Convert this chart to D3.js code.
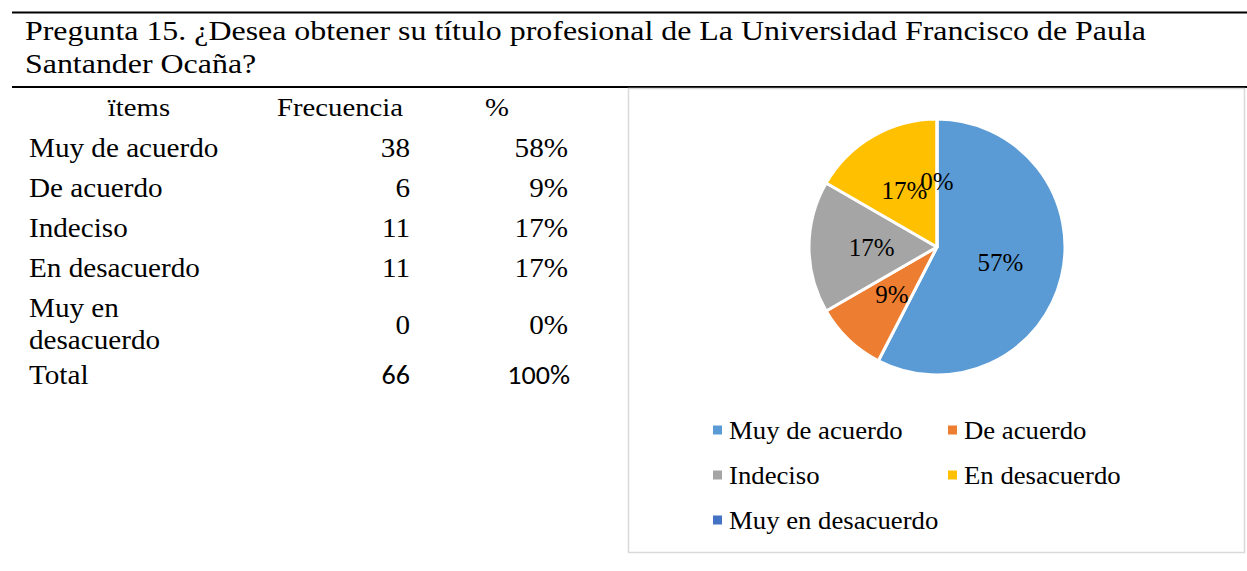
<!DOCTYPE html>
<html>
<head>
<meta charset="utf-8">
<script src="https://cdn.jsdelivr.net/npm/d3@7"></script>
<style>
  body { margin: 0; background: #fff; }
  svg { display: block; }
  .serif { font-family: 'Liberation Serif', 'Times New Roman', serif; fill: #000; }
  .sans { font-family: Carlito, Calibri, Lato, 'Open Sans', sans-serif; fill: #000; }
</style>
</head>
<body>
<svg id="chart" width="1247" height="571"></svg>
<script>
const titleLines = [
  'Pregunta 15. ¿Desea obtener su título profesional de La Universidad Francisco de Paula',
  'Santander Ocaña?'
];
const headers = ['ïtems', 'Frecuencia', '%'];
const categories = ['Muy de acuerdo', 'De acuerdo', 'Indeciso', 'En desacuerdo', 'Muy en desacuerdo'];
const frequencies = [38, 6, 11, 11, 0];
const tablePercents = ['58%', '9%', '17%', '17%', '0%'];
const pieLabels = ['57%', '9%', '17%', '17%', '0%'];
const totalLabel = 'Total';
const totalFrequency = 66;
const totalPercent = '100%';
const colors = ['#5B9BD5', '#ED7D31', '#A5A5A5', '#FFC000', '#4472C4'];

const svg = d3.select('#chart');

// the source picture is a bit wider than tall, so text gets a small x stretch
function addText(parent, x, y, txt, size, sx, anchor, cls) {
  return parent.append('text')
    .attr('class', cls || 'serif')
    .attr('transform', `translate(${x},${y}) scale(${sx},1)`)
    .attr('text-anchor', anchor || 'start')
    .attr('font-size', size)
    .text(txt);
}

// rules + title
svg.append('line').attr('x1', 12).attr('x2', 1247).attr('y1', 12.5).attr('y2', 12.5)
  .attr('stroke', '#000').attr('stroke-width', 2);
svg.append('line').attr('x1', 12).attr('x2', 1247).attr('y1', 87).attr('y2', 87)
  .attr('stroke', '#000').attr('stroke-width', 2);

svg.selectAll('.title')
  .data(titleLines)
  .join('text')
  .attr('class', 'title serif')
  .attr('transform', (d, i) => `translate(25,${40 + i * 33}) scale(1.14,1)`)
  .attr('font-size', 28)
  .text(d => d);

// table
const table = svg.append('g');
const colX = { label: 29, freq: 410, pct: 568 };
const fs = 27, sx = 1.08;

const hdrX = [139, 340, 497];
headers.forEach((h, i) => addText(table, hdrX[i], 116, h, 25, 1.15, 'middle'));

const rows = categories.map((c, i) => ({
  lines: c.length > 15 ? [c.split(' ').slice(0, 2).join(' '), c.split(' ').slice(2).join(' ')] : [c],
  freq: frequencies[i],
  pct: tablePercents[i]
}));
let y = 157;
rows.forEach(r => {
  const g = table.append('g');
  r.lines.forEach((l, j) => addText(g, colX.label, y + j * 32, l, fs, sx));
  const midY = y + (r.lines.length - 1) * 17;
  addText(g, colX.freq, midY, r.freq, fs, sx, 'end');
  addText(g, colX.pct, midY, r.pct, fs, sx, 'end');
  y += r.lines.length === 1 ? 40 : 71;
});
addText(table, colX.label, 384, totalLabel, fs, sx);
addText(table, colX.freq, 384, totalFrequency, 26, 1.08, 'end', 'sans');
addText(table, colX.pct + 2, 384, totalPercent, 26, 1.08, 'end', 'sans');

// chart box
svg.append('rect').attr('x', 628.5).attr('y', 88.5).attr('width', 616).attr('height', 464)
  .attr('fill', '#fff').attr('stroke', '#d9d9d9').attr('stroke-width', 1.5);

// pie
const cx = 937, cy = 247, r = 128;
const pie = d3.pie().sort(null).value(d => d)(frequencies);
const arc = d3.arc().innerRadius(0).outerRadius(r);
const labelArc = d3.arc().innerRadius(r * 0.51).outerRadius(r * 0.51);
const pg = svg.append('g').attr('transform', `translate(${cx},${cy})`);

pg.selectAll('path')
  .data(pie)
  .join('path')
  .attr('d', arc)
  .attr('fill', (d, i) => colors[i])
  .attr('stroke', '#fff')
  .attr('stroke-width', 3)
  .attr('stroke-linejoin', 'round');

pg.selectAll('.lbl')
  .data(pie)
  .join('text')
  .attr('class', 'lbl serif')
  .attr('transform', d => `translate(${labelArc.centroid(d)})`)
  .attr('text-anchor', 'middle')
  .attr('dy', '0.35em')
  .attr('font-size', 25)
  .text((d, i) => pieLabels[i]);

// legend
const legendPos = [[713, 430], [948, 430], [713, 475], [948, 475], [713, 520]];
const lg = svg.selectAll('.leg')
  .data(categories)
  .join('g')
  .attr('class', 'leg')
  .attr('transform', (d, i) => `translate(${legendPos[i][0]},${legendPos[i][1]})`);
lg.append('rect').attr('x', 0).attr('y', -4.5).attr('width', 9).attr('height', 9)
  .attr('fill', (d, i) => colors[i]);
lg.append('text')
  .attr('class', 'serif')
  .attr('transform', 'translate(16,0) scale(1.07,1)')
  .attr('dy', '0.35em')
  .attr('font-size', 25)
  .text(d => d);
</script>
</body>
</html>
